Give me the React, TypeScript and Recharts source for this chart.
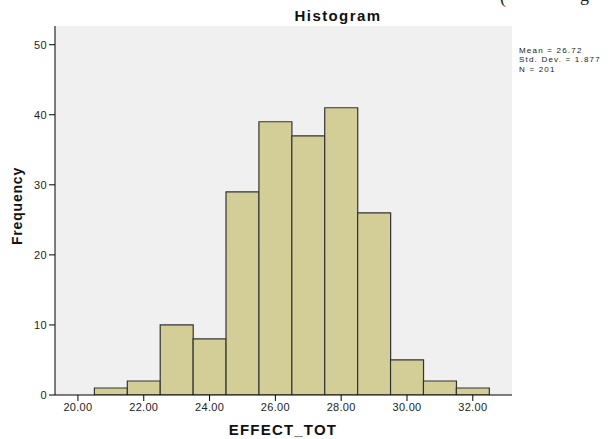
import { ComposedChart, Bar, XAxis, YAxis, CartesianGrid } from 'recharts'

// histogram bins (bin centre) and their counts
const bins = [20, 21, 22, 23, 24, 25, 26, 27, 28, 29, 30, 31, 32]
const counts = [0, 1, 2, 10, 8, 29, 39, 37, 41, 26, 5, 2, 1]
const yTicks = [0, 10, 20, 30, 40, 50]
const statLines = ['Mean = 26.72', 'Std. Dev. = 1.877', 'N = 201']

const data = bins.map((b, i) => ({ bin: b, count: counts[i] }))

const font = '"Liberation Sans", Arial, sans-serif'
const frame = { stroke: '#8a8a8a', strokeWidth: 2 }

export default function App() {
  return (
    <div style={{ position: 'absolute', left: 0, top: 0, width: 614, height: 439, background: '#fff' }}>
      <ComposedChart
        width={614}
        height={439}
        data={data}
        margin={{ top: 26, right: 102, bottom: 0, left: 0 }}
        barCategoryGap={0}
        style={{ fontFamily: font }}
      >
        <CartesianGrid fill="#f0f0f0" horizontal={false} vertical={false} />
        <XAxis
          dataKey="bin"
          type="category"
          height={44}
          interval={1}
          padding={{ left: 6.5, right: 22.75 }}
          tickSize={6}
          tickFormatter={(v) => Number(v).toFixed(2)}
          tick={{ fill: '#222', fontSize: 11, letterSpacing: 0.3 }}
          axisLine={{ stroke: '#000' }}
          tickLine={{ stroke: '#000' }}
        />
        <YAxis
          width={55}
          type="number"
          domain={[0, 52.67]}
          allowDataOverflow
          ticks={yTicks}
          tickSize={6}
          tick={{ fill: '#222', fontSize: 11, letterSpacing: 0.4 }}
          axisLine={{ stroke: '#000' }}
          tickLine={{ stroke: '#000' }}
        />
        <XAxis xAxisId="frame" orientation="top" type="number" domain={[0, 1]} height={0} tick={false} tickLine={false} axisLine={frame} />
        <YAxis yAxisId="frame" orientation="right" type="number" domain={[0, 1]} width={0} tick={false} tickLine={false} axisLine={frame} />
        <Bar dataKey="count" fill="#d3ce97" stroke="#333" strokeWidth={1.2} isAnimationActive={false} />
      </ComposedChart>

      <svg width={614} height={439} style={{ position: 'absolute', left: 0, top: 0, pointerEvents: 'none' }}>
        {/* fragments of the page text above the figure */}
        <text x={500} y={3} fontFamily="'Liberation Serif', serif" fontSize={18} fill="#222">(</text>
        <text x={580} y={1} fontFamily="'Liberation Serif', serif" fontSize={18} fill="#222">g</text>
        <text x={338} y={20.5} textAnchor="middle" fontFamily={font} fontWeight="bold" fontSize={15} fill="#111" style={{ letterSpacing: 1.4 }}>
          Histogram
        </text>
        <text
          x={0}
          y={0}
          transform="translate(22 206) rotate(-90)"
          textAnchor="middle"
          fontFamily={font}
          fontWeight="bold"
          fontSize={14}
          fill="#111"
          style={{ letterSpacing: 0.8 }}
        >
          Frequency
        </text>
        <text x={283} y={435} textAnchor="middle" fontFamily={font} fontWeight="bold" fontSize={15} fill="#111" style={{ letterSpacing: 1.2 }}>
          EFFECT_TOT
        </text>
        {statLines.map((s, i) => (
          <text key={s} x={519} y={53 + i * 9.3} fontFamily={font} fontSize={8} fill="#222" style={{ letterSpacing: 1.2 }}>
            {s}
          </text>
        ))}
      </svg>
    </div>
  )
}
